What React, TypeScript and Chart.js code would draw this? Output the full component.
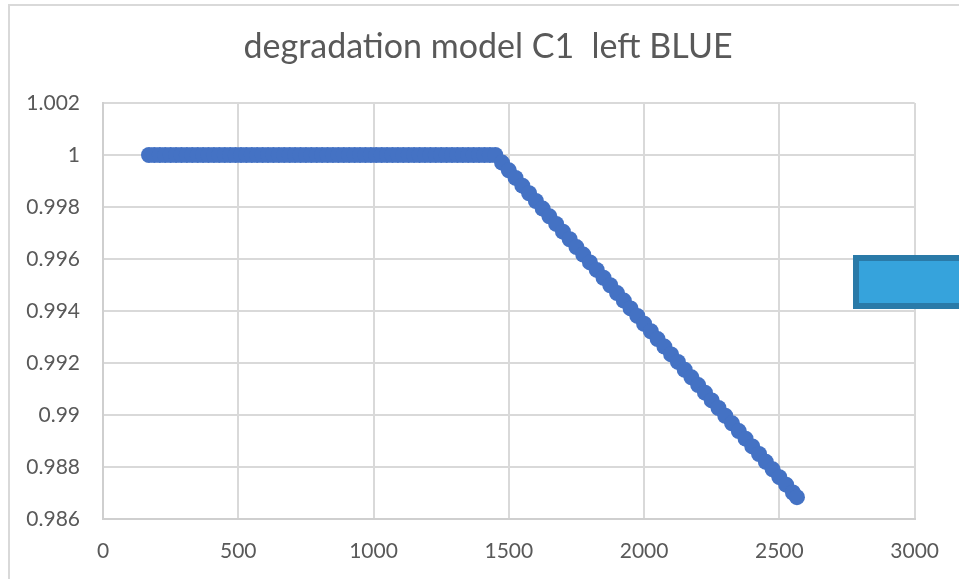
import React, { useEffect, useRef } from "react";
import { Chart, registerables } from "chart.js";

Chart.register(...registerables);

const TITLE = "degradation model C1  left BLUE";

// flat part of the series (value 1)
const flatX = [
  170, 190, 210, 230, 250, 270, 290, 310, 330, 350, 370, 390, 410, 430, 450,
  470, 490, 510, 530, 550, 570, 590, 610, 630, 650, 670, 690, 710, 730, 750,
  770, 790, 810, 830, 850, 870, 890, 910, 930, 950, 970, 990, 1010, 1030,
  1050, 1070, 1090, 1110, 1130, 1150, 1170, 1190, 1210, 1230, 1250, 1270,
  1290, 1310, 1330, 1350, 1370, 1390, 1410, 1430, 1450,
];
const flatY = [
  1, 1, 1, 1, 1, 1, 1, 1, 1, 1, 1, 1, 1, 1, 1, 1, 1, 1, 1, 1, 1, 1, 1, 1, 1,
  1, 1, 1, 1, 1, 1, 1, 1, 1, 1, 1, 1, 1, 1, 1, 1, 1, 1, 1, 1, 1, 1, 1, 1, 1,
  1, 1, 1, 1, 1, 1, 1, 1, 1, 1, 1, 1, 1, 1, 1,
];

// degrading part of the series
const dropX = [
  1475, 1500, 1525, 1550, 1575, 1600, 1625, 1650, 1675, 1700, 1725, 1750,
  1775, 1800, 1825, 1850, 1875, 1900, 1925, 1950, 1975, 2000, 2025, 2050,
  2075, 2100, 2125, 2150, 2175, 2200, 2225, 2250, 2275, 2300, 2325, 2350,
  2375, 2400, 2425, 2450, 2475, 2500, 2525, 2550, 2565,
];
const dropY = [
  0.99971, 0.99941, 0.99912, 0.99882, 0.99853, 0.99823, 0.99794, 0.99764,
  0.99735, 0.99705, 0.99676, 0.99646, 0.99617, 0.99587, 0.99558, 0.99528,
  0.99499, 0.99469, 0.9944, 0.9941, 0.99381, 0.99351, 0.99322, 0.99292,
  0.99263, 0.99233, 0.99204, 0.99174, 0.99145, 0.99115, 0.99086, 0.99056,
  0.99027, 0.98997, 0.98968, 0.98938, 0.98909, 0.98879, 0.9885, 0.9882,
  0.98791, 0.98761, 0.98732, 0.98702, 0.98684,
];

const xTicks = [0, 500, 1000, 1500, 2000, 2500, 3000];
const yTicks = [0.986, 0.988, 0.99, 0.992, 0.994, 0.996, 0.998, 1, 1.002];

const FONT = "Lato, 'Open Sans', sans-serif";
const TEXT = "#595959";
const GRID = "#d9d9d9";

export default function App() {
  const ref = useRef<HTMLCanvasElement | null>(null);

  useEffect(() => {
    if (!ref.current) return;
    const pts = [
      ...flatX.map((x, i) => ({ x, y: flatY[i] })),
      ...dropX.map((x, i) => ({ x, y: dropY[i] })),
    ];
    const titlePlugin = {
      id: "excelTitle",
      afterDraw(chart: any) {
        const ctx = chart.ctx;
        ctx.save();
        ctx.font = `34px ${FONT}`;
        ctx.fillStyle = TEXT;
        ctx.textAlign = "center";
        ctx.textBaseline = "middle";
        ctx.fillText(TITLE, 488, 47);
        ctx.restore();
      },
    };
    const chart = new Chart(ref.current, {
      type: "scatter",
      data: {
        datasets: [
          {
            data: pts,
            backgroundColor: "#4472c4",
            borderColor: "#4472c4",
            borderWidth: 0,
            pointRadius: 8,
            pointHoverRadius: 8,
            showLine: false,
          },
        ],
      },
      plugins: [titlePlugin],
      options: {
        responsive: false,
        animation: false,
        devicePixelRatio: 1,
        layout: { padding: { top: 103, right: 43, bottom: 0, left: 0 } },
        plugins: {
          legend: { display: false },
          title: { display: false },
          tooltip: { enabled: false },
        },
        scales: {
          x: {
            type: "linear",
            min: 0,
            max: 3000,
            afterBuildTicks(scale: any) {
              scale.ticks = xTicks.map((v) => ({ value: v }));
            },
            afterFit(scale: any) {
              scale.height = 60;
            },
            grid: {
              color: GRID,
              lineWidth: 2,
              drawTicks: false,
            },
            border: { color: "#cfcfcf", width: 2 },
            ticks: {
              color: TEXT,
              font: { family: FONT, size: 21 },
              padding: 20,
              maxRotation: 0,
              callback: (v: any) => String(v),
            },
          },
          y: {
            type: "linear",
            min: 0.986,
            max: 1.002,
            afterBuildTicks(scale: any) {
              scale.ticks = yTicks.map((v) => ({ value: v }));
            },
            afterFit(scale: any) {
              scale.width = 103;
            },
            grid: {
              color: GRID,
              lineWidth: 2,
              drawTicks: false,
            },
            border: { color: "#cfcfcf", width: 2 },
            ticks: {
              color: TEXT,
              font: { family: FONT, size: 21 },
              padding: 23,
              callback: (v: any) => String(Math.round(Number(v) * 1000) / 1000),
            },
          },
        },
      },
    });
    return () => chart.destroy();
  }, []);

  return (
    <div
      style={{
        position: "fixed",
        left: 0,
        top: 0,
        width: 959,
        height: 579,
        background: "#ffffff",
        overflow: "hidden",
      }}
    >
      <div
        style={{
          position: "absolute",
          left: 8,
          top: 4,
          width: 1000,
          height: 700,
          borderLeft: "2px solid #d9d9d9",
          borderTop: "2px solid #d9d9d9",
        }}
      />
      <canvas
        ref={ref}
        width={959}
        height={579}
        style={{ position: "absolute", left: 0, top: 0, width: 959, height: 579 }}
      />
      <div
        style={{
          position: "absolute",
          left: 853,
          top: 255,
          width: 140,
          height: 42,
          background: "#36a3dc",
          border: "6px solid #2a7aa8",
        }}
      />
    </div>
  );
}
